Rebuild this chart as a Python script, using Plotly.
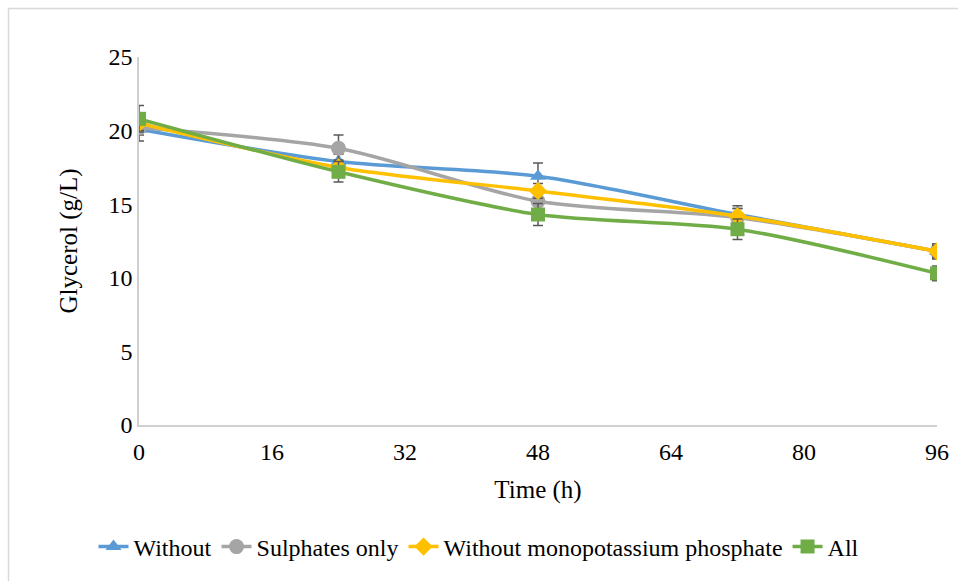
import plotly.graph_objects as go

time_h = [0, 24, 48, 72, 96]
series_names = ["Without", "Sulphates only", "Without monopotassium phosphate", "All"]
without = [20.1, 17.9, 16.9, 14.3, 11.8]
sulphates_only = [20.2, 18.8, 15.2, 14.1, 11.8]
without_kh2po4 = [20.5, 17.5, 15.9, 14.2, 11.8]
all_salts = [20.8, 17.2, 14.3, 13.3, 10.3]
err_without = [0.8, 0.5, 0.9, 0.6, 0.5]
err_sulphates = [0.5, 0.9, 0.6, 0.6, 0.5]
err_without_kh2po4 = [0.5, 0.5, 0.5, 0.5, 0.4]
err_all = [0.9, 0.7, 0.75, 0.7, 0.5]
x_ticks = [0, 16, 32, 48, 64, 80, 96]
y_ticks = [0, 5, 10, 15, 20, 25]

colors = ["#5B9BD5", "#A5A5A5", "#FFC000", "#70AD47"]
symbols = ["triangle-up", "circle", "diamond", "square"]
sizes = [14, 15, 14, 14]
values = [without, sulphates_only, without_kh2po4, all_salts]
errors = [err_without, err_sulphates, err_without_kh2po4, err_all]

FONT = "Liberation Serif, Times New Roman, serif"

fig = go.Figure()
for name, v, e, c, s, sz in zip(series_names, values, errors, colors, symbols, sizes):
    fig.add_trace(go.Scatter(
        x=time_h, y=v, name=name, mode="lines+markers",
        line=dict(color=c, width=3.5, shape="spline", smoothing=0.8),
        marker=dict(symbol=s, size=sz, color=c),
        error_y=dict(type="data", array=e, visible=True, color="#595959",
                     thickness=1.5, width=5),
    ))

W, H = 958, 581
ml, mr, mt, mb = 139, 21, 57, 156
pw, ph = W - ml - mr, H - mt - mb

fig.update_layout(
    width=W, height=H,
    margin=dict(l=ml, r=mr, t=mt, b=mb, autoexpand=False),
    paper_bgcolor="white", plot_bgcolor="white",
    font=dict(family=FONT, size=24, color="black"),
    showlegend=True,
    legend=dict(orientation="h", xref="container", yref="container",
                x=0.5, xanchor="center", y=1 - 547 / H, yanchor="middle",
                font=dict(family=FONT, size=24), itemwidth=30, tracegroupgap=0,
                traceorder="normal"),
    xaxis=dict(range=[0, 96], tickvals=x_ticks, showgrid=False, zeroline=False,
               showline=True, linecolor="#D0D0D0", linewidth=1.5,
               ticks="outside", ticklen=4, tickcolor="rgba(0,0,0,0)",
               title=dict(text="Time (h)", font=dict(family=FONT, size=25), standoff=17),
               tickfont=dict(family=FONT, size=24)),
    yaxis=dict(range=[0, 25], tickvals=y_ticks, showgrid=False, zeroline=False,
               showline=True, linecolor="#D0D0D0", linewidth=1.5, ticks="",
               title=dict(text="Glycerol (g/L)", font=dict(family=FONT, size=25), standoff=24),
               tickfont=dict(family=FONT, size=24)),
)

# chart-area border (light gray)
fig.add_shape(type="rect", xref="paper", yref="paper",
              x0=(8.5 - ml) / pw, x1=(W + 10 - ml) / pw,
              y0=-(H + 10 - mt - ph) / ph, y1=1 + (mt - 8.5) / ph,
              line=dict(color="#D9D9D9", width=1.5), fillcolor="rgba(0,0,0,0)", layer="below")

fig.write_html("out.html")
